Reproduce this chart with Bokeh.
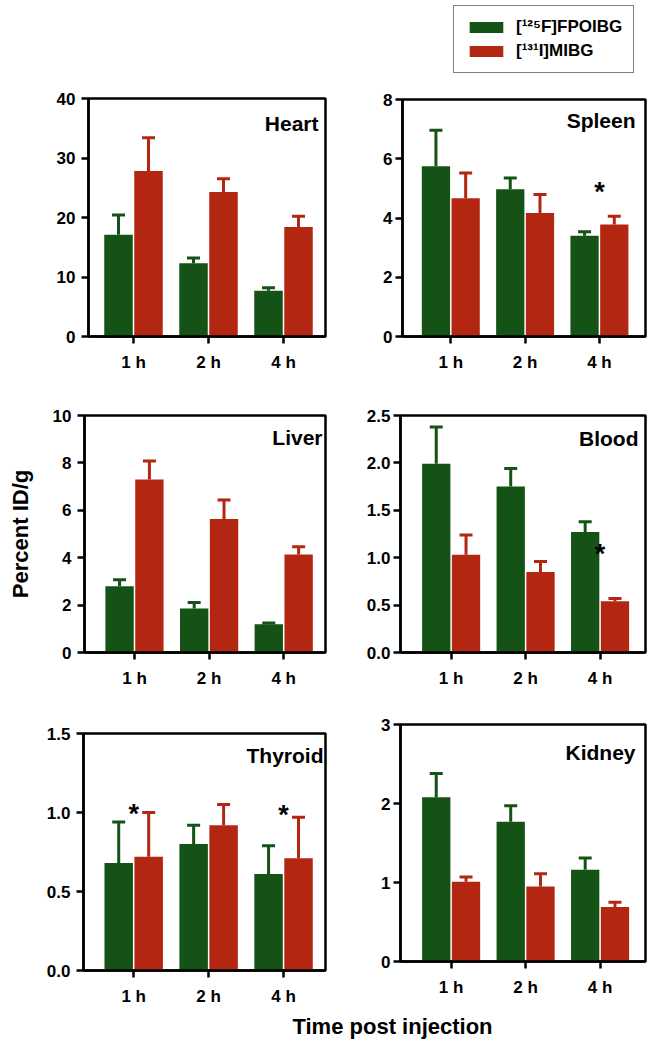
from bokeh.plotting import figure
from bokeh.models import (Range1d, FixedTicker, Whisker, TeeHead, ColumnDataSource,
                          Label, Legend, LegendItem, NumeralTickFormatter)
from bokeh.layouts import column, row
from bokeh.embed import file_html
from bokeh.resources import INLINE
from bokeh.core.properties import value

# ---------------- data ----------------
times = ["1 h", "2 h", "4 h"]
series_names = ["[\u00b9\u00b2\u2075F]FPOIBG", "[\u00b9\u00b3\u00b9I]MIBG"]
organs = ["Heart", "Spleen", "Liver", "Blood", "Thyroid", "Kidney"]

heart_fpoibg = [17.1, 12.3, 7.7]
heart_fpoibg_sd = [3.3, 0.9, 0.5]
heart_mibg = [27.8, 24.3, 18.4]
heart_mibg_sd = [5.6, 2.2, 1.8]

spleen_fpoibg = [5.75, 4.97, 3.40]
spleen_fpoibg_sd = [1.21, 0.38, 0.14]
spleen_mibg = [4.67, 4.17, 3.78]
spleen_mibg_sd = [0.85, 0.62, 0.28]

liver_fpoibg = [2.80, 1.86, 1.19]
liver_fpoibg_sd = [0.27, 0.25, 0.05]
liver_mibg = [7.30, 5.63, 4.13]
liver_mibg_sd = [0.78, 0.80, 0.33]

blood_fpoibg = [1.99, 1.75, 1.27]
blood_fpoibg_sd = [0.39, 0.19, 0.11]
blood_mibg = [1.03, 0.85, 0.54]
blood_mibg_sd = [0.21, 0.11, 0.03]

thyroid_fpoibg = [0.68, 0.80, 0.61]
thyroid_fpoibg_sd = [0.26, 0.12, 0.18]
thyroid_mibg = [0.72, 0.92, 0.71]
thyroid_mibg_sd = [0.28, 0.13, 0.26]

kidney_fpoibg = [2.08, 1.77, 1.16]
kidney_fpoibg_sd = [0.30, 0.20, 0.15]
kidney_mibg = [1.01, 0.95, 0.69]
kidney_mibg_sd = [0.06, 0.16, 0.06]

# significance markers: (time index, y)
spleen_stars = [(2, 5.07)]
blood_stars = [(2, 1.10)]
thyroid_stars = [(0, 1.03), (2, 1.02)]

y_max = {"Heart": 40, "Spleen": 8, "Liver": 10, "Blood": 2.5, "Thyroid": 1.5, "Kidney": 3}
y_ticks = {"Heart": [0, 10, 20, 30, 40], "Spleen": [0, 2, 4, 6, 8], "Liver": [0, 2, 4, 6, 8, 10],
           "Blood": [0, 0.5, 1.0, 1.5, 2.0, 2.5], "Thyroid": [0, 0.5, 1.0, 1.5], "Kidney": [0, 1, 2, 3]}

# ---------------- style ----------------
GREEN = "#155215"
RED = "#b32712"
FONT = "Liberation Sans"

geom = {
    "Heart":   dict(w=358, h=296, l=88, r=33, t=18, b=40, xr=(-0.60, 2.56), lf=0.105, li=7, fmt="0"),
    "Spleen":  dict(w=298, h=296, l=44, r=11, t=19, b=40, xr=(-0.65, 2.62), lf=0.089, li=10, fmt="0"),
    "Liver":   dict(w=358, h=315, l=84, r=33, t=39, b=39, xr=(-0.67, 2.56), lf=0.093, li=3, fmt="0"),
    "Blood":   dict(w=298, h=315, l=42, r=11, t=39, b=39, xr=(-0.68, 2.61), lf=0.097, li=7, fmt="0.0"),
    "Thyroid": dict(w=358, h=317, l=83, r=33, t=42, b=38, xr=(-0.67, 2.56), lf=0.093, li=2, fmt="0.0"),
    "Kidney":  dict(w=298, h=317, l=42, r=11, t=33, b=47, xr=(-0.68, 2.61), lf=0.118, li=10, fmt="0"),
}


def make_panel(name, fp, fp_sd, mi, mi_sd, stars, g):
    ymax = y_max[name]
    p = figure(width=g["w"], height=g["h"], x_range=Range1d(*g["xr"]), y_range=Range1d(0, ymax),
               output_backend="svg", toolbar_location=None, title=None,
               min_border_left=g["l"], min_border_right=g["r"],
               min_border_top=g["t"], min_border_bottom=g["b"])
    xs = list(range(len(times)))
    src = ColumnDataSource(dict(
        xg=[x - 0.2 for x in xs], xr=[x + 0.2 for x in xs],
        fp=fp, fp_hi=[a + b for a, b in zip(fp, fp_sd)],
        mi=mi, mi_hi=[a + b for a, b in zip(mi, mi_sd)],
    ))
    p.vbar(x="xg", top="fp", bottom=0, width=0.38, source=src, fill_color=GREEN, line_color=None)
    p.vbar(x="xr", top="mi", bottom=0, width=0.38, source=src, fill_color=RED, line_color=None)
    for base, lo, hi, col in (("xg", "fp", "fp_hi", GREEN), ("xr", "mi", "mi_hi", RED)):
        p.add_layout(Whisker(source=src, base=base, lower=lo, upper=hi, dimension="height",
                             line_color=col, line_width=3, lower_head=None,
                             upper_head=TeeHead(size=13, line_color=col, line_width=3)))
    if stars:
        ssrc = ColumnDataSource(dict(x=[s[0] for s in stars], y=[s[1] for s in stars],
                                     t=["*"] * len(stars)))
        p.text(x="x", y="y", text="t", source=ssrc, text_font=value(FONT),
               text_font_size=value("27px"), text_font_style="bold", text_color="black",
               text_align="center", text_baseline="middle", y_offset=6)

    p.add_layout(Label(x=g["xr"][1], y=ymax * (1 - g["lf"]), x_offset=-g["li"], text=name,
                       text_align="right", text_baseline="middle", text_font=FONT,
                       text_font_size="21px", text_font_style="bold", text_color="black"))

    p.xgrid.visible = False
    p.ygrid.visible = False
    p.outline_line_color = "black"
    p.outline_line_width = 2.5
    p.outline_line_alpha = 1.0
    p.background_fill_color = "white"
    p.border_fill_color = "white"

    p.xaxis.ticker = FixedTicker(ticks=xs)
    p.xaxis.major_label_overrides = {i: t for i, t in enumerate(times)}
    p.yaxis.ticker = FixedTicker(ticks=y_ticks[name])
    p.yaxis.formatter = NumeralTickFormatter(format=g["fmt"])
    for ax in (p.xaxis[0], p.yaxis[0]):
        ax.axis_line_width = 2.5
        ax.axis_line_color = "black"
        ax.major_tick_line_width = 2.5
        ax.major_tick_line_color = "black"
        ax.major_tick_out = 7
        ax.major_tick_in = 0
        ax.minor_tick_out = 0
        ax.minor_tick_in = 0
        ax.major_label_text_font = FONT
        ax.major_label_text_font_size = "17px"
        ax.major_label_text_font_style = "bold"
        ax.major_label_text_color = "black"
    p.xaxis.major_label_standoff = 9
    p.yaxis.major_label_standoff = 6 if g["w"] == 358 else 3
    return p, src


heart, _ = make_panel("Heart", heart_fpoibg, heart_fpoibg_sd, heart_mibg, heart_mibg_sd, [], geom["Heart"])
spleen, spleen_src = make_panel("Spleen", spleen_fpoibg, spleen_fpoibg_sd, spleen_mibg, spleen_mibg_sd,
                                spleen_stars, geom["Spleen"])
liver, _ = make_panel("Liver", liver_fpoibg, liver_fpoibg_sd, liver_mibg, liver_mibg_sd, [], geom["Liver"])
blood, _ = make_panel("Blood", blood_fpoibg, blood_fpoibg_sd, blood_mibg, blood_mibg_sd,
                      blood_stars, geom["Blood"])
thyroid, _ = make_panel("Thyroid", thyroid_fpoibg, thyroid_fpoibg_sd, thyroid_mibg, thyroid_mibg_sd,
                        thyroid_stars, geom["Thyroid"])
kidney, _ = make_panel("Kidney", kidney_fpoibg, kidney_fpoibg_sd, kidney_mibg, kidney_mibg_sd, [],
                       geom["Kidney"])

liver.yaxis.axis_label = "Percent ID/g"
liver.yaxis.axis_label_text_font = FONT
liver.yaxis.axis_label_text_font_size = "22px"
liver.yaxis.axis_label_text_font_style = "bold"
liver.yaxis.axis_label_text_color = "black"
liver.yaxis.axis_label_standoff = 17

# ---- legend strip: its own figure, hidden copies of the series renderers ----
lf = figure(width=656, height=80, x_range=Range1d(0, 656), y_range=Range1d(0, 80),
            output_backend="svg", toolbar_location=None, title=None, min_border=0,
            x_axis_location=None, y_axis_location=None)
lf.xgrid.visible = False
lf.ygrid.visible = False
lf.outline_line_color = None
g_r = lf.vbar(x="xg", top="fp", width=0.38, source=spleen_src, fill_color=GREEN, line_color=None,
              visible=False)
r_r = lf.vbar(x="xr", top="mi", width=0.38, source=spleen_src, fill_color=RED, line_color=None,
              visible=False)
legend = Legend(items=[LegendItem(label=value(series_names[0]), renderers=[g_r]),
                       LegendItem(label=value(series_names[1]), renderers=[r_r])],
                location=(453, 7), glyph_width=42, glyph_height=14, label_standoff=9,
                label_text_font=FONT, label_text_font_size="17px", label_text_font_style="bold",
                label_text_color="black", label_height=20, spacing=4, padding=11, margin=0,
                border_line_color="black", border_line_width=1.5, background_fill_color="white",
                background_fill_alpha=1.0, inactive_fill_alpha=0.0)
lf.add_layout(legend)

# ---- x title strip ----
tf = figure(width=656, height=34, x_range=Range1d(0, 656), y_range=Range1d(0, 34),
            output_backend="svg", toolbar_location=None, title=None, min_border=0,
            x_axis_location=None, y_axis_location=None)
tf.xgrid.visible = False
tf.ygrid.visible = False
tf.outline_line_color = None
tf.add_layout(Label(x=392, y=16, text="Time post injection", text_align="center",
                    text_baseline="middle", text_font=FONT, text_font_size="22px",
                    text_font_style="bold", text_color="black"))

layout = column(
    lf,
    row(column(heart), column(spleen)),
    row(column(liver), column(blood)),
    row(column(thyroid), column(kidney)),
    tf,
)

open("out.html", "w").write(file_html(layout, INLINE))
